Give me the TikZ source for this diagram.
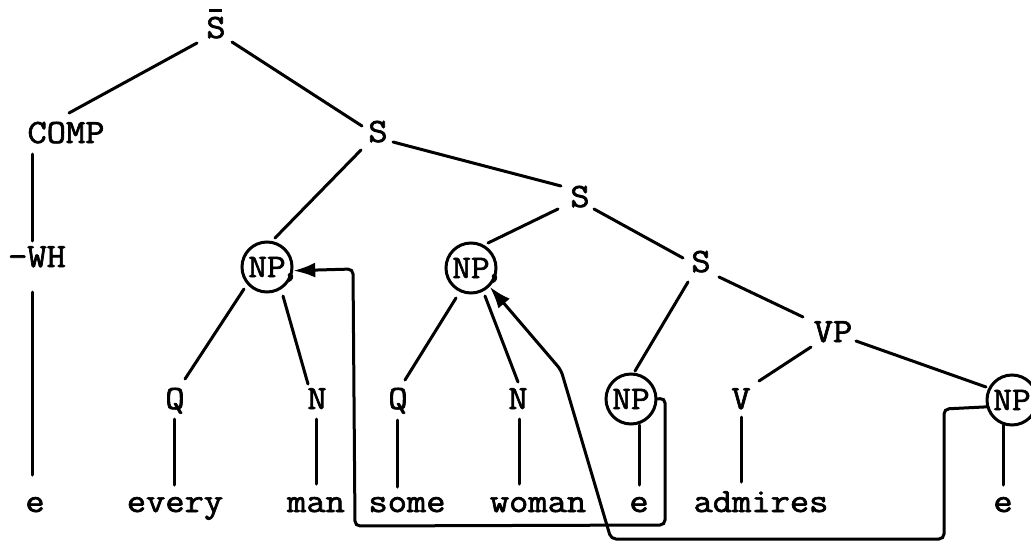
\documentclass[tikz,border=0pt]{standalone}
\usepackage{fontspec}
\newfontfamily\tw{Latin Modern Mono}[FakeBold=2,FakeStretch=1.1]
\usetikzlibrary{arrows.meta}
\begin{document}
\begin{tikzpicture}[x=1pt,y=-1pt,
  lbl/.style={font=\tw\fontsize{34}{40}\selectfont, inner sep=0pt, anchor=base},
  npc/.style={draw, circle, line width=3pt, minimum size=50pt, inner sep=0pt, font=\tw\fontsize{33}{40}\selectfont},
  edge/.style={line width=3pt, line cap=round},
  mv/.style={line width=3pt, rounded corners=5pt, line cap=round, -{Latex[length=22pt,width=15pt]}}]
\clip (0,0) rectangle (1031,544);
\fill[white] (0,0) rectangle (1031,544);
% labels
\node[lbl] (sbar) at (216,38) {\makebox[0pt][l]{\hspace{3pt}\rule[\dimexpr\fontcharht\font`S+5pt\relax]{13pt}{3pt}}S};
\node[lbl] (comp) at (66,143) {COMP};
\node[lbl] (s1) at (378,142) {S};
\node[lbl] (wh) at (37,267) {-WH};
\node[lbl] (s2) at (580,207) {S};
\node[lbl] (s3) at (701,272) {S};
\node[lbl] (vp) at (833,342) {VP};
\node[npc] (np1) at (267,267) {NP\rlap{\smash{\hspace{-5pt},}}};
\node[npc] (np2) at (471,268) {NP\rlap{\smash{\hspace{-5pt},}}};
\node[npc] (np3) at (631,399) {NP};
\node[npc] (np4) at (1012,400) {NP};
\node[lbl] (q1) at (175,409) {Q};
\node[lbl] (n1) at (317,409) {N};
\node[lbl] (q2) at (398,409) {Q};
\node[lbl] (n2) at (518,409) {N};
\node[lbl] (v) at (741,409) {V};
\node[lbl] (e1) at (35,512) {e};
\node[lbl] (every) at (175,512) {every};
\node[lbl] (man) at (316,512) {man};
\node[lbl] (some) at (407,512) {some};
\node[lbl] (woman) at (538,512) {woman};
\node[lbl] (e2) at (639,512) {e};
\node[lbl] (admires) at (761,512) {admires};
\node[lbl] (e3) at (1003,512) {e};
% tree edges
\draw[edge] ([shift={(-19,5)}]sbar.base) -- ([shift={(3,-30)}]comp.base);
\draw[edge] ([shift={(16,4)}]sbar.base) -- ([shift={(-16,-16)}]s1.base);
\draw[edge] ([shift={(-34,11)}]comp.base) -- ([shift={(-5,-26)}]wh.base);
\draw[edge] ([shift={(-5,25)}]wh.base) -- ([shift={(-3,-37)}]e1.base);
\draw[edge] ([shift={(-17,8)}]s1.base) -- ([shift={(8,-29)}]np1.center);
\draw[edge] ([shift={(15,0)}]s1.base) -- ([shift={(-19,-21)}]s2.base);
\draw[edge] ([shift={(-22,2)}]s2.base) -- ([shift={(17,-25)}]np2.center);
\draw[edge] ([shift={(14,2)}]s2.base) -- ([shift={(-18,-14)}]s3.base);
\draw[edge] ([shift={(-13,10)}]s3.base) -- ([shift={(4,-28)}]np3.center);
\draw[edge] ([shift={(18,5)}]s3.base) -- ([shift={(-30,-25)}]vp.base);
\draw[edge] ([shift={(-22,5)}]vp.base) -- ([shift={(18,-28)}]v.base);
\draw[edge] ([shift={(23,-1)}]vp.base) -- ([shift={(-26,-13)}]np4.center);
\draw[edge] ([shift={(0,8)}]v.base) -- ([shift={(-20,-30)}]admires.base);
\draw[edge] ([shift={(-23,22)}]np1.center) -- ([shift={(10,-30)}]q1.base);
\draw[edge] ([shift={(16,29)}]np1.center) -- ([shift={(-9,-25)}]n1.base);
\draw[edge] ([shift={(-1,10)}]q1.base) -- ([shift={(-1,-27)}]every.base);
\draw[edge] ([shift={(-1,10)}]n1.base) -- ([shift={(0,-28)}]man.base);
\draw[edge] ([shift={(-15,30)}]np2.center) -- ([shift={(7,-29)}]q2.base);
\draw[edge] ([shift={(14,28)}]np2.center) -- ([shift={(0,-27)}]n2.base);
\draw[edge] ([shift={(-1,11)}]q2.base) -- ([shift={(-10,-25)}]some.base);
\draw[edge] ([shift={(1,10)}]n2.base) -- ([shift={(-19,-28)}]woman.base);
\draw[edge] ([shift={(8,26)}]np3.center) -- ([shift={(0,-27)}]e2.base);
\draw[edge] ([shift={(-9,25)}]np4.center) -- ([shift={(0,-27)}]e3.base);
% movement connectors
\draw[mv] (np3.east) -- (665,398) -- (665,525) -- (355,526) -- (353,269) -- (np1.-8);
\draw[mv] (np4.195) -- (944,409) -- (944,539) -- (611,539) -- (561,370) -- (np2.-45);
\end{tikzpicture}
\end{document}
